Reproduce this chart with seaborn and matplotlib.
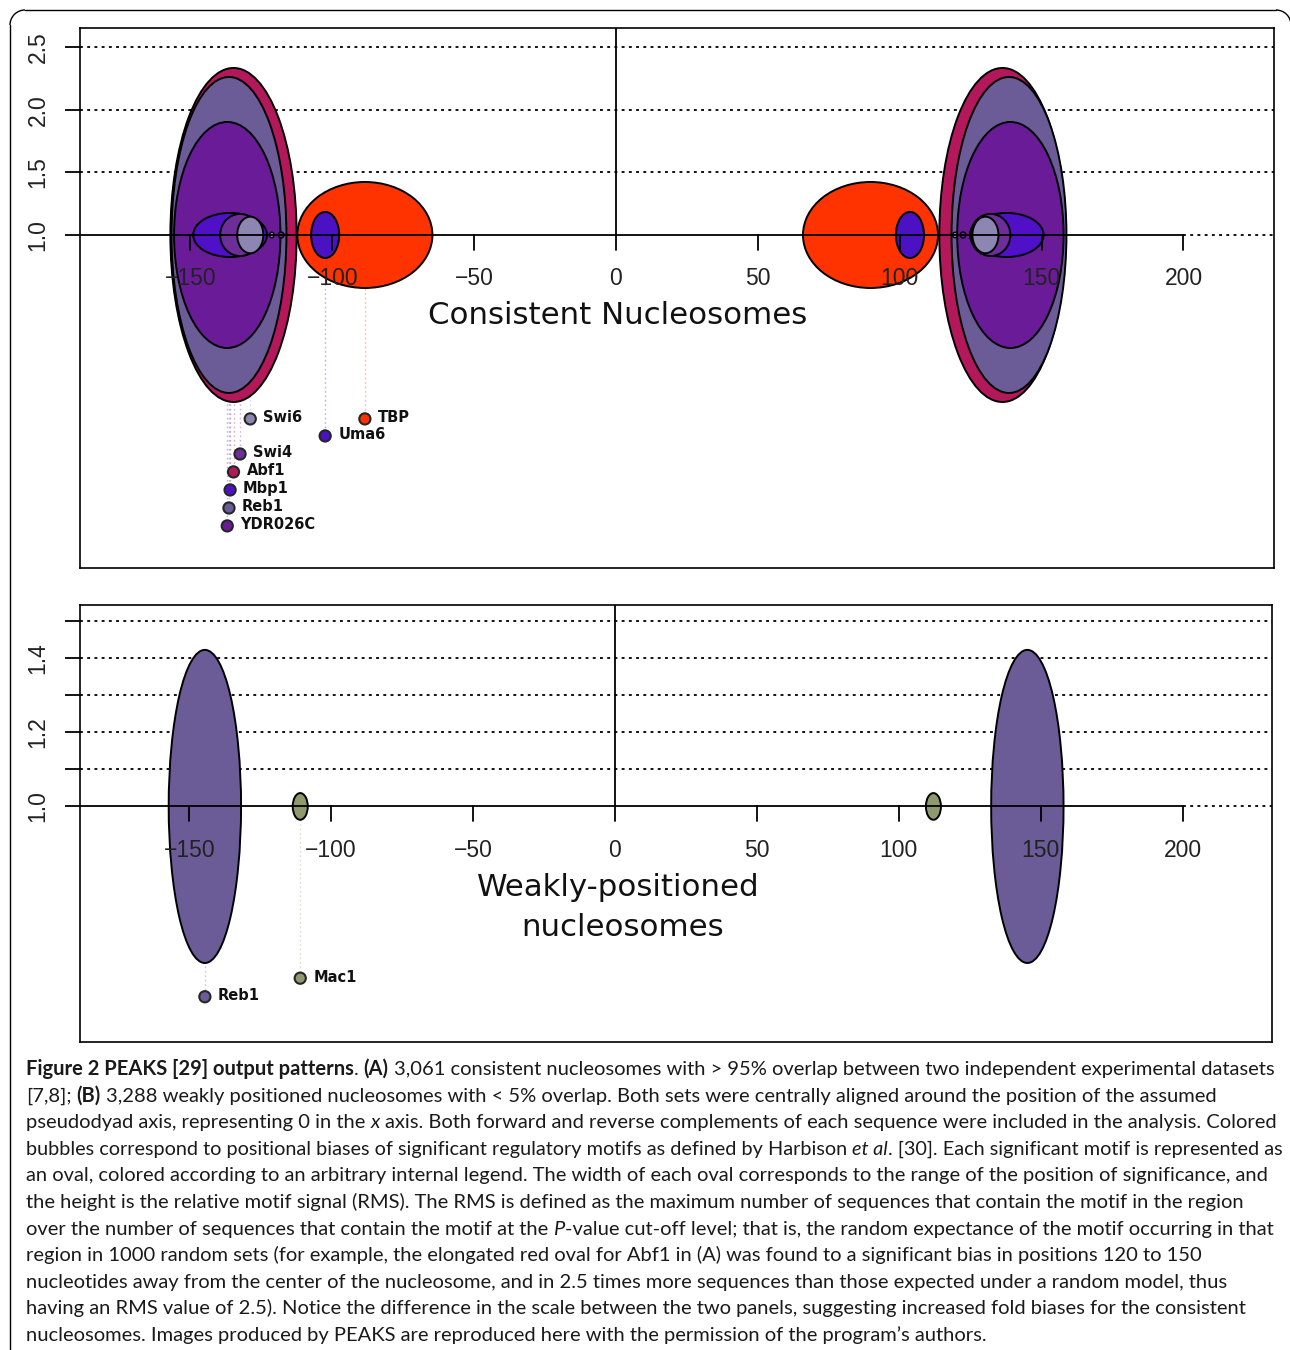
import re
import numpy as np
import pandas as pd
import matplotlib
matplotlib.use("Agg")
import matplotlib.pyplot as plt
from matplotlib.patches import Ellipse, Arc
from matplotlib.lines import Line2D
import seaborn as sns

# ---------------- data ----------------
# Panel A: consistent nucleosomes
a_motif = ["Abf1", "Reb1", "YDR026C", "TBP", "Mbp1", "Swi4", "Uma6", "Swi6"]
a_center_left = [-134.8, -136.4, -137.0, -88.5, -136.0, -132.5, -102.5, -128.9]
a_center_right = [136.2, 138.5, 139.0, 89.7, 137.7, 132.0, 103.6, 130.2]
a_width = [44.5, 40.5, 37.5, 47.6, 26.0, 14.0, 9.9, 9.2]
a_rms = [2.333, 2.261, 1.902, 1.423, 1.176, 1.168, 1.184, 1.146]
a_label_y = [-0.891, -1.179, -1.322, -0.468, -1.035, -0.748, -0.604, -0.468]
# two tiny unlabelled ovals next to the big cluster
a_minor_left = [-121.3, -118.0]
a_minor_right = [119.5, 122.3]
a_minor_width = [1.6, 2.0]
a_minor_rms = [1.022, 1.024]

# Panel B: weakly-positioned nucleosomes
b_motif = ["Reb1", "Mac1"]
b_center_left = [-144.5, -110.9]
b_center_right = [145.3, 112.2]
b_width = [25.5, 5.3]
b_rms = [1.422, 1.036]
b_label_y = [0.487, 0.537]

x_ticks = [-150, -100, -50, 0, 50, 100, 150, 200]
a_yticks = [1.0, 1.5, 2.0, 2.5]
b_yticks = [1.0, 1.1, 1.2, 1.3, 1.4, 1.5]
b_ytick_labels = ["1.0", "", "1.2", "", "1.4", ""]

title_a = "Consistent Nucleosomes"
title_b = ["Weakly-positioned", "nucleosomes"]

caption_lines = [
    "**Figure 2 PEAKS [29] output patterns**. **(A)** 3,061 consistent nucleosomes with > 95% overlap between two independent experimental datasets",
    "[7,8]; **(B)** 3,288 weakly positioned nucleosomes with < 5% overlap. Both sets were centrally aligned around the position of the assumed",
    "pseudodyad axis, representing 0 in the __x__ axis. Both forward and reverse complements of each sequence were included in the analysis. Colored",
    "bubbles correspond to positional biases of significant regulatory motifs as defined by Harbison __et al__. [30]. Each significant motif is represented as",
    "an oval, colored according to an arbitrary internal legend. The width of each oval corresponds to the range of the position of significance, and",
    "the height is the relative motif signal (RMS). The RMS is defined as the maximum number of sequences that contain the motif in the region",
    "over the number of sequences that contain the motif at the __P__-value cut-off level; that is, the random expectance of the motif occurring in that",
    "region in 1000 random sets (for example, the elongated red oval for Abf1 in (A) was found to a significant bias in positions 120 to 150",
    "nucleotides away from the center of the nucleosome, and in 2.5 times more sequences than those expected under a random model, thus",
    "having an RMS value of 2.5). Notice the difference in the scale between the two panels, suggesting increased fold biases for the consistent",
    "nucleosomes. Images produced by PEAKS are reproduced here with the permission of the program\u2019s authors.",
]

palette = {
    "Abf1": "#B3185A",
    "Reb1": "#6B5C98",
    "YDR026C": "#6A1C98",
    "TBP": "#FF3300",
    "Mbp1": "#5010C8",
    "Swi4": "#6E2E9A",
    "Uma6": "#4A12C2",
    "Swi6": "#8E86B2",
    "Mac1": "#8E9A6E",
}
minor_colors = ["#9C94BC", "#6A1C98"]

# ---------------- style ----------------
sns.set_theme(style="white")
plt.rcParams["font.family"] = ["DejaVu Sans"]
TICK_FONT = "Liberation Sans"
CAP_FONT = "Lato"

W, H = 1290, 1350
fig = plt.figure(figsize=(W / 100, H / 100), dpi=100)
renderer = fig.canvas.get_renderer()


def fbox(l, t, r, b):
    return [l / W, 1 - b / H, (r - l) / W, (b - t) / H]


DOT = (0, (1.6, 2.4))


def draw_panel(ax, box, xlim, ylim, yticks, ylabels, grid_levels,
               motifs, cl, cr, widths, rms, label_y,
               minor=None):
    ax.set_xlim(xlim)
    ax.set_ylim(ylim)
    h_px = box[3] - box[1]
    ppu = h_px / (ylim[1] - ylim[0])

    # dotted reference lines
    ax.hlines(grid_levels, xlim[0], xlim[1], colors="black", linestyles=[DOT],
              lw=1.3, zorder=0.5)
    ax.plot([200, xlim[1]], [1, 1], color="black", ls=DOT, lw=1.3, zorder=0.5)
    ax.plot([0, 0], [1, ylim[1]], color="black", lw=1.3, zorder=0.6)

    # leader lines from axis to the label dots
    for m, x, y in zip(motifs, cl, label_y):
        ax.plot([x, x], [1, y], color=palette[m], alpha=0.35, ls=(0, (1.2, 2.0)),
                lw=1.0, zorder=0.7)

    # ovals (left and right mirror sets)
    z = 2
    for m, xl, xr, w, r in zip(motifs, cl, cr, widths, rms):
        for xc in (xl, xr):
            ax.add_patch(Ellipse((xc, 1), w, 2 * (r - 1), facecolor=palette[m],
                                 edgecolor="black", lw=1.4, zorder=z))
        z += 1
    if minor is not None:
        for (xl, xr, w, r), col in zip(zip(*minor), minor_colors):
            for xc in (xl, xr):
                ax.add_patch(Ellipse((xc, 1), w, 2 * (r - 1), facecolor=col,
                                     edgecolor="black", lw=1.0, zorder=z))
            z += 1

    # axis line at y = 1 and its ticks / labels (drawn on top)
    ax.plot([xlim[0], 200], [1, 1], color="black", lw=1.3, zorder=30)
    tl = 15 / ppu
    for t in x_ticks:
        ax.plot([t, t], [1, 1 - tl], color="black", lw=1.3, zorder=30)
        lab = str(t).replace("-", "\u2212")
        ax.text(t, 1 - 44 / ppu, lab, ha="center", va="center", fontsize=16.5,
                family=TICK_FONT, color="#222222", zorder=31)

    # label dots
    df = pd.DataFrame({"motif": motifs, "x": cl, "y": label_y})
    sns.scatterplot(data=df, x="x", y="y", hue="motif", palette=palette, s=65,
                    edgecolor="#262626", linewidth=1.5, legend=False, ax=ax,
                    zorder=40)
    for m, x, y in zip(motifs, cl, label_y):
        ax.annotate(m, (x, y), xytext=(13, 1), textcoords="offset pixels",
                    ha="left", va="center", fontsize=10.5, fontweight="bold",
                    color="#111111", zorder=41)

    ax.set_xlim(xlim)
    ax.set_ylim(ylim)
    ax.set_xlabel("")
    ax.set_ylabel("")
    ax.set_xticks([])
    ax.set_yticks(yticks)
    ax.set_yticklabels(ylabels, rotation=90, va="center", fontsize=16.5,
                       family=TICK_FONT, color="#222222")
    ax.tick_params(axis="y", which="both", left=True, length=10.8, width=1.3,
                   pad=11, direction="out", color="black")
    for s in ax.spines.values():
        s.set_color("black")
        s.set_linewidth(1.2)
        s.set_visible(True)


boxA = (80, 28, 1274, 568)
boxB = (80, 605, 1272, 1042)
axA = fig.add_axes(fbox(*boxA))
axB = fig.add_axes(fbox(*boxB))

draw_panel(axA, boxA, (-188.9, 231.9), (-1.658, 2.652), a_yticks,
           ["1.0", "1.5", "2.0", "2.5"], [1.5, 2.0, 2.5],
           a_motif, a_center_left, a_center_right, a_width, a_rms, a_label_y,
           minor=(a_minor_left, a_minor_right, a_minor_width, a_minor_rms))
draw_panel(axB, boxB, (-188.5, 231.5), (0.365, 1.543), b_yticks,
           b_ytick_labels, [1.1, 1.2, 1.3, 1.4, 1.5],
           b_motif, b_center_left, b_center_right, b_width, b_rms, b_label_y)


# ---------------- text helpers ----------------
def px(x, y):
    return x / W, 1 - y / H


def text_width(s, **kw):
    t = fig.text(0, 0, s, **kw)
    w = t.get_window_extent(renderer).width
    t.remove()
    return w


def fit_size(s, target, base=20, **kw):
    return base * target / text_width(s, fontsize=base, **kw)


# panel titles
tsize = fit_size(title_a, 379, family="DejaVu Sans")
fig.text(*px(618, 316), title_a, ha="center", va="center", fontsize=tsize,
         family="DejaVu Sans", color="#111111")
fig.text(*px(618, 888), title_b[0], ha="center", va="center", fontsize=tsize,
         family="DejaVu Sans", color="#111111")
fig.text(*px(623, 927), title_b[1], ha="center", va="center", fontsize=tsize,
         family="DejaVu Sans", color="#111111")


# caption with rich text
def parse(line):
    segs = []
    for part in re.split(r"(\*\*.*?\*\*|__.*?__)", line):
        if not part:
            continue
        if part.startswith("**"):
            segs.append((part[2:-2], "bold", "normal"))
        elif part.startswith("__"):
            segs.append((part[2:-2], "normal", "italic"))
        else:
            segs.append((part, "normal", "normal"))
    return segs


plain0 = re.sub(r"\*\*|__", "", caption_lines[0])
csize0 = fit_size(plain0, 1250, base=14, family=CAP_FONT)
X0, X_MAX = 26, 1279


def layout_rich(line, size, x0, y0, draw):
    sp = (text_width("n n", fontsize=size, family=CAP_FONT)
          - text_width("nn", fontsize=size, family=CAP_FONT))
    x = x0
    for s, wgt, sty in parse(line):
        lead = len(s) - len(s.lstrip(" "))
        trail = len(s) - len(s.rstrip(" "))
        core = s.strip(" ")
        x += lead * sp
        if core:
            t = fig.text(*px(x, y0), core, ha="left", va="baseline",
                         fontsize=size, family=CAP_FONT, fontweight=wgt,
                         fontstyle=sty, color="#1a1a1a")
            x += t.get_window_extent(renderer).width
            if not draw:
                t.remove()
        x += trail * sp
    return x


for i, line in enumerate(caption_lines):
    y0 = 1075 + 26.6 * i
    size = csize0
    end = layout_rich(line, size, X0, y0, draw=False)
    if end > X_MAX:
        size = size * (X_MAX - X0) / (end - X0)
    layout_rich(line, size, X0, y0, draw=True)

# frame around the figure
fig.add_artist(Line2D([10 / W, 10 / W], [0, 1 - 25 / H], transform=fig.transFigure,
                      color="black", lw=1.0))
fig.add_artist(Line2D([25 / W, 1276 / W], [1 - 10 / H, 1 - 10 / H],
                      transform=fig.transFigure, color="black", lw=1.0))
fig.add_artist(Arc((25 / W, 1 - 25 / H), 30 / W, 30 / H, theta1=90, theta2=180,
                   transform=fig.transFigure, color="black", lw=1.0))
fig.add_artist(Arc((1276 / W, 1 - 25 / H), 30 / W, 30 / H, theta1=0, theta2=90,
                   transform=fig.transFigure, color="black", lw=1.0))

fig.savefig("out.png", dpi=100)
